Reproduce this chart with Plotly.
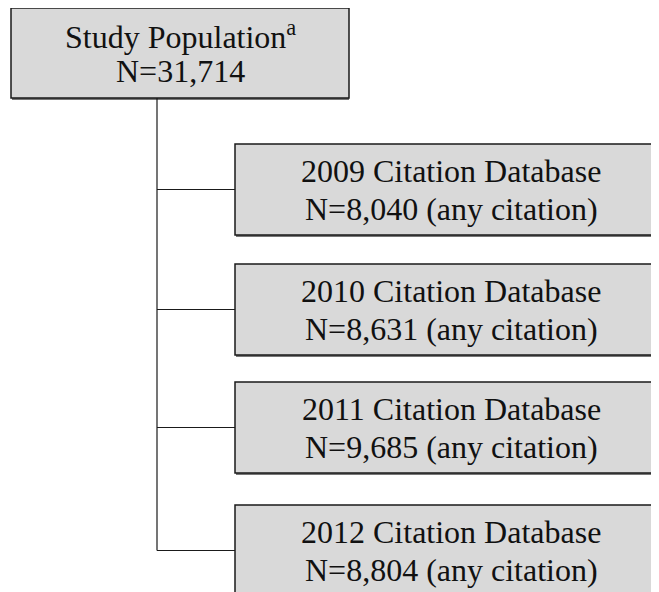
import plotly.graph_objects as go

# ---- data ----
root_label = "Study Population"
root_note = "a"
root_n = 31714
years = [2009, 2010, 2011, 2012]
counts = [8040, 8631, 9685, 8804]
child_suffix = "Citation Database"
count_note = "(any citation)"

# ---- layout constants (pixels, page coordinates) ----
W, H = 659, 592
OFF = 8  # default page body margin
FONT = "Liberation Serif, Times New Roman, serif"
FS = 32
FILL = "#d9d9d9"
EDGE = "#1a1a1a"

root_box = dict(x0=11, x1=349, y0=8, y1=98)
trunk_x = 157
child_x0, child_x1 = 235, 667
child_tops = [144, 264, 382, 505]
child_h = 91

fig = go.Figure()
shapes = []
annos = []

def box(x0, x1, y0, y1):
    shapes.append(dict(type="line", x0=x0 + 1, x1=x1, y0=y1 + 1, y1=y1 + 1,
                       line=dict(color="#777777", width=2), layer="below"))
    shapes.append(dict(type="rect", x0=x0, x1=x1, y0=y0, y1=y1,
                       fillcolor=FILL, line=dict(color=EDGE, width=1.5), layer="below"))

def text(x, y, s):
    annos.append(dict(x=x, y=y, text=s, showarrow=False, xanchor="center", yanchor="middle",
                      font=dict(family=FONT, size=FS, color="#111111")))

# root
box(**root_box)
rcx = (root_box["x0"] + root_box["x1"]) / 2
rcy = (root_box["y0"] + root_box["y1"]) / 2
text(rcx, rcy - 18, f"{root_label}<sup>{root_note}</sup>")
text(rcx, rcy + 18, f"N={root_n:,}")

# trunk
connector_ys = [t + child_h / 2 for t in child_tops]
shapes.append(dict(type="line", x0=trunk_x, x1=trunk_x, y0=root_box["y1"], y1=connector_ys[-1],
                   line=dict(color=EDGE, width=1.2)))

for yr, n, top, cy in zip(years, counts, child_tops, connector_ys):
    shapes.append(dict(type="line", x0=trunk_x, x1=child_x0, y0=cy, y1=cy,
                       line=dict(color=EDGE, width=1.2)))
    box(child_x0, child_x1, top, top + child_h)
    tx = (child_x0 + child_x1) / 2
    text(tx, cy - 18.5, f"{yr} {child_suffix}")
    text(tx, cy + 19.5, f"N={n:,} {count_note}")

fig.update_layout(
    width=W - OFF, height=H - OFF,
    margin=dict(l=0, r=0, t=0, b=0),
    paper_bgcolor="white", plot_bgcolor="white",
    xaxis=dict(range=[OFF, W], visible=False, fixedrange=True),
    yaxis=dict(range=[H, OFF], visible=False, fixedrange=True),
    shapes=shapes, annotations=annos, showlegend=False,
)
fig.write_html("out.html")
